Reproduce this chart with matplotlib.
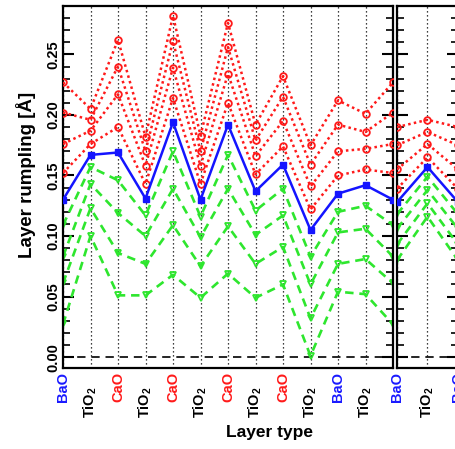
import matplotlib
matplotlib.use("Agg")
import matplotlib.pyplot as plt
from matplotlib.ticker import MultipleLocator, FormatStrFormatter
from matplotlib.transforms import ScaledTranslation


OUTPUT_FILE = "out.png"

# Layer sequence along the slab (main panel) and the bulk-like side panel
LAYERS_MAIN = ["BaO", "TiO2", "CaO", "TiO2", "CaO", "TiO2", "CaO",
               "TiO2", "CaO", "TiO2", "BaO", "TiO2", ""]
LAYERS_SIDE = ["BaO", "TiO2", "BaO"]

# Average rumpling (blue)
MEAN_MAIN = [0.130, 0.167, 0.169, 0.131, 0.194, 0.130, 0.192,
             0.137, 0.159, 0.105, 0.135, 0.142, 0.130]
MEAN_SIDE = [0.128, 0.157, 0.128]

# Upper curves (red, dotted)
UPPER_MAIN = [
    [0.227, 0.205, 0.262, 0.182, 0.282, 0.183, 0.276, 0.192, 0.232, 0.175, 0.212, 0.201, 0.227],
    [0.202, 0.196, 0.240, 0.170, 0.261, 0.170, 0.256, 0.179, 0.215, 0.159, 0.192, 0.186, 0.202],
    [0.176, 0.187, 0.217, 0.158, 0.239, 0.158, 0.234, 0.166, 0.195, 0.141, 0.170, 0.172, 0.176],
    [0.152, 0.176, 0.190, 0.143, 0.214, 0.143, 0.210, 0.151, 0.174, 0.122, 0.150, 0.155, 0.152],
]
UPPER_SIDE = [
    [0.190, 0.196, 0.190],
    [0.175, 0.186, 0.175],
    [0.155, 0.176, 0.155],
    [0.139, 0.165, 0.139],
]

# Lower curves (green, dashed)
LOWER_MAIN = [
    [0.109, 0.157, 0.146, 0.117, 0.170, 0.116, 0.167, 0.121, 0.139, 0.083, 0.120, 0.125, 0.109],
    [0.083, 0.143, 0.119, 0.100, 0.139, 0.099, 0.139, 0.101, 0.117, 0.060, 0.103, 0.106, 0.083],
    [0.061, 0.123, 0.086, 0.077, 0.109, 0.075, 0.108, 0.077, 0.091, 0.032, 0.077, 0.081, 0.061],
    [0.027, 0.100, 0.051, 0.051, 0.068, 0.049, 0.069, 0.049, 0.060, 0.001, 0.054, 0.052, 0.027],
]
LOWER_SIDE = [
    [0.118, 0.149, 0.118],
    [0.106, 0.138, 0.106],
    [0.093, 0.127, 0.093],
    [0.080, 0.116, 0.080],
]

RED = "#ff1a1a"
GREEN = "#2ee62e"
BLUE = "#1414ff"
LABEL_COLORS = {"BaO": "#1a1aff", "CaO": "#ff1a1a", "TiO2": "black", "": "black"}

plt.rcParams["font.family"] = ["Liberation Sans", "DejaVu Sans"]
plt.rcParams["font.weight"] = "bold"
plt.rcParams["mathtext.fontset"] = "custom"
plt.rcParams["mathtext.rm"] = "Liberation Sans:bold"
plt.rcParams["mathtext.bf"] = "Liberation Sans:bold"


def label_text(name):
    if name == "TiO2":
        return r"TiO$_\mathbf{2}$"
    return name


def draw_panel(ax, layers, mean, upper, lower):
    x = list(range(len(layers)))

    for xi in x:
        ax.axvline(xi, color="black", linestyle=(0, (1, 2.2)), linewidth=0.9, zorder=1)
    ax.axhline(0.0, color="black", linestyle=(0, (5, 3.5)), linewidth=1.2, zorder=1)

    for series in lower:
        ax.plot(x, series, color=GREEN, linestyle=(0, (3.2, 2.2)), linewidth=1.9,
                marker="v", markersize=5, markerfacecolor="none",
                markeredgecolor=GREEN, markeredgewidth=1.3, zorder=2)

    for series in upper:
        ax.plot(x, series, color=RED, linestyle=(0, (1, 1.3)), linewidth=1.8,
                marker="o", markersize=4.8, markerfacecolor="none",
                markeredgecolor=RED, markeredgewidth=1.3, zorder=3)

    ax.plot(x, mean, color=BLUE, linewidth=1.8, marker="s", markersize=3.8,
            markerfacecolor=BLUE, markeredgecolor=BLUE, zorder=4)

    ax.set_ylim(-0.009, 0.29)
    ax.yaxis.set_major_locator(MultipleLocator(0.05))
    ax.yaxis.set_minor_locator(MultipleLocator(0.01))
    ax.yaxis.set_major_formatter(FormatStrFormatter("%.2f"))
    ax.tick_params(axis="y", which="major", direction="in", length=8, width=1.5,
                   left=True, right=True)
    ax.tick_params(axis="y", which="minor", direction="in", length=5, width=1.2,
                   left=True, right=True)

    ax.set_xticks(x)
    ax.set_xticklabels([label_text(n) for n in layers], rotation=90,
                       fontsize=10.5, fontweight="bold")
    ax.tick_params(axis="x", length=0, pad=3)
    fig = ax.figure
    for tick_label, name in zip(ax.get_xticklabels(), layers):
        tick_label.set_color(LABEL_COLORS[name])
        if name == "TiO2":
            offset = ScaledTranslation(0, -0.14, fig.dpi_scale_trans)
            tick_label.set_transform(tick_label.get_transform() + offset)

    for spine in ax.spines.values():
        spine.set_linewidth(1.6)


def main():
    fig = plt.figure(figsize=(4.56, 4.49), dpi=100)

    ax_main = fig.add_axes([63 / 456, 1 - 368 / 449, 330 / 456, 362 / 449])
    ax_side = fig.add_axes([397 / 456, 1 - 368 / 449, 61 / 456, 362 / 449])

    draw_panel(ax_main, LAYERS_MAIN, MEAN_MAIN, UPPER_MAIN, LOWER_MAIN)
    ax_main.set_xlim(0, len(LAYERS_MAIN) - 1)
    for tick_label in ax_main.get_yticklabels():
        tick_label.set_rotation(90)
        tick_label.set_verticalalignment("center")
        tick_label.set_fontsize(10.5)
        tick_label.set_fontweight("bold")
    ax_main.tick_params(axis="y", which="major", pad=2)

    draw_panel(ax_side, LAYERS_SIDE, MEAN_SIDE, UPPER_SIDE, LOWER_SIDE)
    ax_side.set_xlim(0, len(LAYERS_SIDE) - 1)
    ax_side.set_yticklabels([])

    fig.text(26 / 456, 1 - 175 / 449, "Layer rumpling [Å]", rotation=90,
             ha="center", va="center", fontsize=13.5, fontweight="bold")
    fig.text(270 / 456, 1 - 433 / 449, "Layer type", ha="center", va="center",
             fontsize=12.5, fontweight="bold")

    fig.savefig(OUTPUT_FILE, dpi=100)
    plt.close(fig)


if __name__ == "__main__":
    main()
